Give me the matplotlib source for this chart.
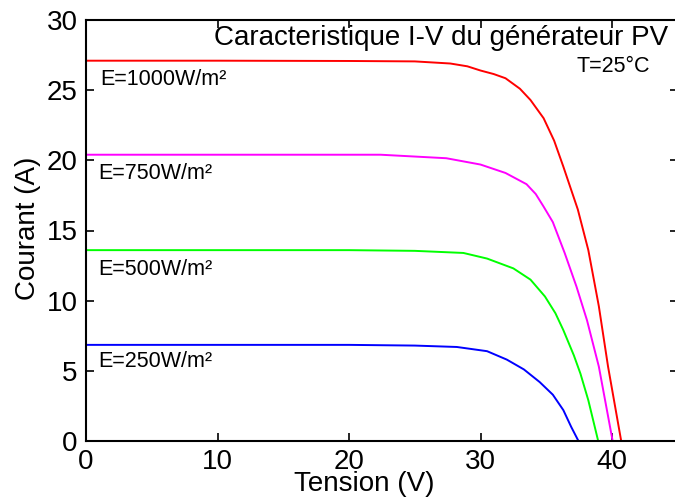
import matplotlib
matplotlib.use("Agg")
import matplotlib.pyplot as plt

plt.rcParams['font.family'] = ['Liberation Sans', 'DejaVu Sans']

# Data
V_1000 = [0, 10, 20, 25, 27.7, 29.0, 30.0, 31.0, 31.9, 33.0, 33.8, 34.8, 35.6, 36.3, 37.4, 38.2, 39.0, 39.7, 40.7]
I_1000 = [27.1, 27.1, 27.08, 27.05, 26.9, 26.7, 26.4, 26.15, 25.85, 25.1, 24.3, 23.0, 21.4, 19.55, 16.5, 13.6, 9.6, 5.3, 0]

V_750 = [0, 10, 20, 22.4, 27.4, 30.0, 31.9, 33.5, 34.2, 34.8, 35.5, 36.4, 37.3, 38.1, 39.0, 40.05]
I_750 = [20.4, 20.4, 20.4, 20.4, 20.15, 19.7, 19.1, 18.3, 17.6, 16.7, 15.6, 13.4, 11.0, 8.6, 5.3, 0]

V_500 = [0, 10, 20, 25, 28.7, 30.5, 32.5, 33.8, 34.9, 35.7, 36.3, 37.1, 37.6, 38.2, 38.95]
I_500 = [13.6, 13.6, 13.6, 13.55, 13.4, 13.0, 12.3, 11.5, 10.3, 9.1, 7.9, 6.1, 4.8, 2.9, 0]

V_250 = [0, 10, 20, 25, 28.2, 30.5, 32.0, 33.3, 34.5, 35.5, 36.3, 36.9, 37.45]
I_250 = [6.85, 6.85, 6.85, 6.8, 6.7, 6.4, 5.8, 5.1, 4.2, 3.3, 2.2, 1.0, 0]

labels = ['E=1000W/m²', 'E=750W/m²', 'E=500W/m²', 'E=250W/m²']
label_x = [1.1, 0.95, 0.95, 0.95]
label_y = [25.4, 18.64, 11.8, 5.24]
colors = ['#ff0000', '#ff00ff', '#00ff00', '#0000ff']
x_ticks = [0, 10, 20, 30, 40]
y_ticks = [0, 5, 10, 15, 20, 25, 30]

fig = plt.figure(figsize=(6.75, 4.99), dpi=100)
ax = fig.add_axes([86/675, 58/499, 591.75/675, 421/499])

series = [(V_1000, I_1000), (V_750, I_750), (V_500, I_500), (V_250, I_250)]
for (v, i), c in zip(series, colors):
    ax.plot(v, i, color=c, lw=1.4)

for lab, x, y in zip(labels, label_x, label_y):
    ax.text(x, y, lab, fontsize=15.5, va='baseline', ha='left')

ax.text(44.3, 28.2, 'Caracteristique I-V du générateur PV', fontsize=20,
        ha='right', va='baseline')
ax.text(37.3, 26.3, 'T=25°C', fontsize=15.5, ha='left', va='baseline')

ax.set_xlim(0, 45)
ax.set_ylim(0, 30)
ax.set_xticks(x_ticks)
ax.set_yticks(y_ticks)
ax.tick_params(direction='in', length=6, width=1.2, labelsize=20,
               top=True, right=True, pad=6, colors='black')
for s in ax.spines.values():
    s.set_linewidth(1.5)

ax.set_xlabel('Tension (V)', fontsize=20)
ax.xaxis.set_label_coords(0.47, -0.119)
ax.xaxis.label.set_va('baseline')
ax.set_ylabel('Courant (A)', fontsize=20)
ax.yaxis.set_label_coords(-0.076, 0.505)

fig.savefig('out.png', dpi=100)
